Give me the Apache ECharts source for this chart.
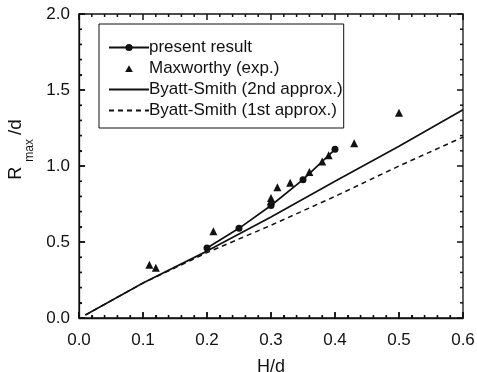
<!DOCTYPE html>
<html>
<head>
<meta charset="utf-8">
<script src="https://cdn.jsdelivr.net/npm/echarts@6/dist/echarts.min.js"></script>
<style>
  html, body { margin: 0; padding: 0; background: #fff; }
  #chart { width: 477px; height: 372px; }
</style>
</head>
<body>
<div id="chart"></div>
<script>
// Present result (H/d, Rmax/d)
const presentH = [0.20, 0.25, 0.30, 0.35, 0.40];
const presentR = [0.46, 0.59, 0.74, 0.91, 1.11];

// Maxworthy experiments
const maxworthyH = [0.11, 0.12, 0.21, 0.30, 0.30, 0.31, 0.33, 0.36, 0.38, 0.39, 0.43, 0.50];
const maxworthyR = [0.35, 0.33, 0.57, 0.79, 0.77, 0.86, 0.89, 0.96, 1.03, 1.07, 1.15, 1.35];

// Byatt-Smith theory curves
const byattH = [0.01, 0.1, 0.2, 0.3, 0.4, 0.5, 0.6];
const byatt2nd = [0.02, 0.23, 0.44, 0.665, 0.90, 1.13, 1.37];
const byatt1st = [0.02, 0.23, 0.43, 0.61, 0.80, 1.00, 1.19];

// Axis tick values
const xTicks = [0.0, 0.1, 0.2, 0.3, 0.4, 0.5, 0.6];
const yTicks = [0.0, 0.5, 1.0, 1.5, 2.0];
const MINOR_PER_MAJOR = 5;

const pairs = (xs, ys) => xs.map((x, i) => [x, ys[i]]);

const FONT = 'Liberation Sans, Arial, Helvetica, sans-serif';
const INK = '#111';
const PLOT = { left: 79, top: 14, width: 384, height: 304 };
const X_MIN = xTicks[0], X_MAX = xTicks[xTicks.length - 1];
const Y_MIN = yTicks[0], Y_MAX = yTicks[yTicks.length - 1];

// Tick marks for the frame: [value, kind] with kind 0 = x major, 1 = x minor,
// 2 = y major, 3 = y minor; minor ticks subdivide each major interval
function tickItems(ticks, majorKind) {
  const items = [];
  ticks.forEach((t, i) => {
    items.push([t, majorKind]);
    if (i < ticks.length - 1) {
      const step = (ticks[i + 1] - t) / MINOR_PER_MAJOR;
      for (let k = 1; k < MINOR_PER_MAJOR; k++) items.push([t + k * step, majorKind + 1]);
    }
  });
  return items;
}
const frameTicks = tickItems(xTicks, 0).concat(tickItems(yTicks, 2));

// Inward ticks on all four sides of the frame
function renderTick(params, api) {
  const v = api.value(0);
  const kind = api.value(1);
  const len = (kind === 0 || kind === 2) ? 6 : 3;
  const style = { stroke: INK, lineWidth: 1.5 };
  let a, b;
  if (kind < 2) {
    const p = api.coord([v, Y_MIN]);
    const q = api.coord([v, Y_MAX]);
    a = { x1: p[0], y1: p[1], x2: p[0], y2: p[1] - len };
    b = { x1: q[0], y1: q[1], x2: q[0], y2: q[1] + len };
  } else {
    const p = api.coord([X_MIN, v]);
    const q = api.coord([X_MAX, v]);
    a = { x1: p[0], y1: p[1], x2: p[0] + len, y2: p[1] };
    b = { x1: q[0], y1: q[1], x2: q[0] - len, y2: q[1] };
  }
  return {
    type: 'group',
    children: [
      { type: 'line', shape: a, style: style },
      { type: 'line', shape: b, style: style }
    ]
  };
}

// Legend glyph for the experiment points: a small triangle inside a 40x9 box
const TRI_ICON = 'path://M0,0L0,0M40,9L40,9M20,1.2L23.8,8L16.2,8Z';

const tickLabel = {
  show: true, fontFamily: FONT, fontSize: 17, color: INK,
  formatter: v => v.toFixed(1)
};

const axisTicks = {
  axisTick: { show: true, inside: true, length: 6, lineStyle: { color: INK, width: 1.5 } },
  minorTick: { show: true, splitNumber: MINOR_PER_MAJOR, length: 3, lineStyle: { color: INK, width: 1.2 } }
};

const chart = echarts.init(document.getElementById('chart'), null, { renderer: 'canvas' });

chart.setOption({
  backgroundColor: '#fff',
  animation: false,
  grid: Object.assign({
    containLabel: false, outerBoundsMode: 'none',
    show: true, borderColor: INK, borderWidth: 1.3, backgroundColor: 'transparent'
  }, PLOT),
  legend: {
    orient: 'vertical',
    left: 99,
    top: 24,
    padding: [15, 1, 9, 9],
    itemGap: 4,
    itemWidth: 40,
    itemHeight: 9,
    backgroundColor: '#fff',
    borderColor: INK,
    borderWidth: 1,
    borderRadius: 0,
    textStyle: { fontFamily: FONT, fontSize: 17, color: INK, padding: [0, 0, 0, -5] },
    data: [
      { name: 'present result' },
      { name: 'Maxworthy (exp.)', icon: TRI_ICON, itemStyle: { color: INK, opacity: 1 } },
      { name: 'Byatt-Smith (2nd approx.)', itemStyle: { opacity: 0 } },
      { name: 'Byatt-Smith (1st approx.)', itemStyle: { opacity: 0 } }
    ]
  },
  xAxis: Object.assign({
    type: 'value', min: X_MIN, max: X_MAX, interval: 0.1,
    position: 'bottom',
    axisLine: { show: true, onZero: false, lineStyle: { color: INK, width: 1.3 } },
    splitLine: { show: false },
    name: 'H/d', nameLocation: 'middle', nameGap: 40,
    nameTextStyle: { fontFamily: FONT, fontSize: 18, color: INK },
    axisLabel: Object.assign({ margin: 14 }, tickLabel)
  }, axisTicks),
  yAxis: Object.assign({
    type: 'value', min: Y_MIN, max: Y_MAX, interval: 0.5,
    position: 'left',
    axisLine: { show: true, onZero: false, lineStyle: { color: INK, width: 1.3 } },
    splitLine: { show: false },
    name: '{r0|R}{s|max}{r|/d}', nameLocation: 'middle', nameGap: 40, nameRotate: 90,
    nameTextStyle: {
      fontFamily: FONT, color: INK,
      rich: {
        r0: { fontFamily: FONT, fontSize: 18, color: INK, padding: [0, 0, 0, 33] },
        s: { fontFamily: FONT, fontSize: 12, color: INK, verticalAlign: 'bottom', padding: [27, 4, 0, 5] },
        r: { fontFamily: FONT, fontSize: 19, color: INK }
      }
    },
    axisLabel: Object.assign({ margin: 9 }, tickLabel)
  }, axisTicks),
  series: [
    {
      name: 'present result', type: 'line',
      data: pairs(presentH, presentR),
      symbol: 'circle', symbolSize: 7,
      itemStyle: { color: INK },
      lineStyle: { color: INK, width: 1.7 },
      z: 5
    },
    {
      name: 'Maxworthy (exp.)', type: 'scatter',
      data: pairs(maxworthyH, maxworthyR),
      symbol: 'triangle', symbolSize: 8,
      itemStyle: { color: INK, opacity: 1 },
      z: 6
    },
    {
      name: 'Byatt-Smith (2nd approx.)', type: 'line',
      data: pairs(byattH, byatt2nd),
      showSymbol: false, symbol: 'none',
      itemStyle: { color: INK },
      lineStyle: { color: INK, width: 1.7 }
    },
    {
      name: 'Byatt-Smith (1st approx.)', type: 'line',
      data: pairs(byattH, byatt1st),
      showSymbol: false, symbol: 'none',
      itemStyle: { color: INK },
      lineStyle: { color: INK, width: 1.5, type: [5, 4] }
    },
    {
      name: 'frame ticks', type: 'custom',
      coordinateSystem: 'cartesian2d',
      data: frameTicks,
      renderItem: renderTick,
      clip: false, silent: true, z: 3
    }
  ]
});
</script>
</body>
</html>
